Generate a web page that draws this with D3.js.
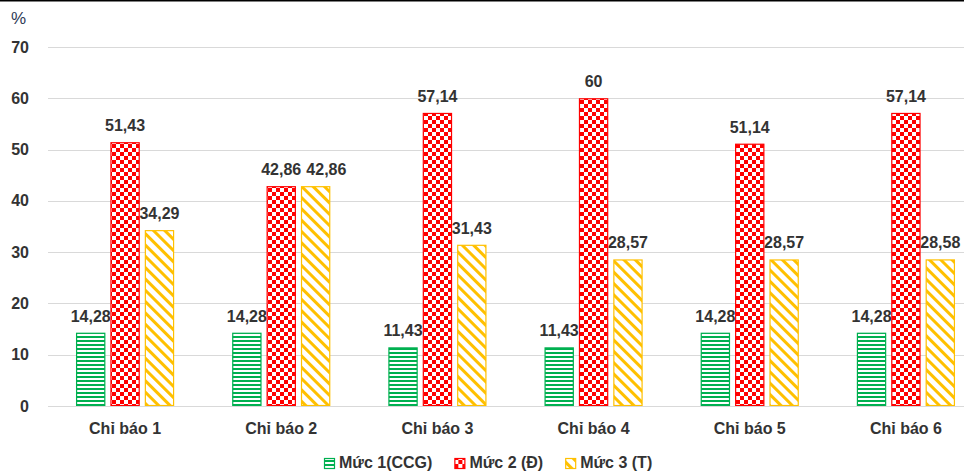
<!DOCTYPE html>
<html>
<head>
<meta charset="utf-8">
<script src="https://cdn.jsdelivr.net/npm/d3@7"></script>
<style>
	html, body { margin: 0; padding: 0; background: #fff; }
	svg { display: block; font-family: "Liberation Sans", Arial, sans-serif; font-weight: bold; }
</style>
</head>
<body>
<div id="chart"></div>
<script>
const categories = ["Chỉ báo 1", "Chỉ báo 2", "Chỉ báo 3", "Chỉ báo 4", "Chỉ báo 5", "Chỉ báo 6"];
const series_names = ["Mức 1(CCG)", "Mức 2 (Đ)", "Mức 3 (T)"];
const muc1 = [14.28, 14.28, 11.43, 11.43, 14.28, 14.28];
const muc2 = [51.43, 42.86, 57.14, 60, 51.14, 57.14];
const muc3 = [34.29, 42.86, 31.43, 28.57, 28.57, 28.58];
const value_labels = [
	["14,28", "14,28", "11,43", "11,43", "14,28", "14,28"],
	["51,43", "42,86", "57,14", "60", "51,14", "57,14"],
	["34,29", "42,86", "31,43", "28,57", "28,57", "28,58"]
];
const y_ticks = [0, 10, 20, 30, 40, 50, 60, 70];

const width = 964, height = 472;
const colors = ["#00b050", "#ff0000", "#ffc000"];
const text_color = "#333333";

const svg = d3.select('#chart').append('svg')
	.attr('width', width)
	.attr('height', height);

// fill patterns, one per series
const defs = svg.append('defs');

const p1 = defs.append('pattern')
	.attr('id', 'pat-0')
	.attr('patternUnits', 'userSpaceOnUse')
	.attr('width', 4).attr('height', 4);
p1.append('rect').attr('width', 4).attr('height', 4).attr('fill', '#fff');
p1.append('rect').attr('y', 0).attr('width', 4).attr('height', 2).attr('fill', colors[0]);

const p2 = defs.append('pattern')
	.attr('id', 'pat-1')
	.attr('patternUnits', 'userSpaceOnUse')
	.attr('width', 8).attr('height', 8);
p2.append('rect').attr('width', 8).attr('height', 8).attr('fill', '#fff');
p2.append('rect').attr('x', 0).attr('y', 0).attr('width', 4).attr('height', 4).attr('fill', colors[1]);
p2.append('rect').attr('x', 4).attr('y', 4).attr('width', 4).attr('height', 4).attr('fill', colors[1]);

const p3 = defs.append('pattern')
	.attr('id', 'pat-2')
	.attr('patternUnits', 'userSpaceOnUse')
	.attr('width', 8).attr('height', 8)
	.attr('patternTransform', 'rotate(-45)');
p3.append('rect').attr('width', 8).attr('height', 8).attr('fill', '#fff');
p3.append('rect').attr('x', 0).attr('y', 0).attr('width', 3).attr('height', 8).attr('fill', colors[2]);

// top border line
svg.append('line')
	.attr('x1', 0).attr('x2', width)
	.attr('y1', 0.75).attr('y2', 0.75)
	.attr('stroke', '#000')
	.attr('stroke-width', 1.5);

const plot = { left: 47, right: 984, top: 47, bottom: 406 };

const x0 = d3.scaleBand()
	.domain(categories)
	.range([plot.left, plot.right])
	.paddingInner(0)
	.paddingOuter(0);

const group_width = 98;
const x1 = d3.scaleBand()
	.domain(d3.range(3))
	.range([0, group_width])
	.paddingInner(0.15)
	.paddingOuter(0);

const y = d3.scaleLinear()
	.domain([0, 70])
	.range([plot.bottom, plot.top]);

const bar_x = (i, s) => x0(categories[i]) + (x0.bandwidth() - group_width) / 2 + x1(s);

// gridlines
svg.append('g')
	.selectAll('line')
	.data(y_ticks)
	.enter().append('line')
	.attr('x1', plot.left + 1)
	.attr('x2', width)
	.attr('y1', d => Math.round(y(d)) + 0.5)
	.attr('y2', d => Math.round(y(d)) + 0.5)
	.attr('stroke', '#d9d9d9')
	.attr('stroke-width', 1.2);

// y axis labels
const yaxis = svg.append('g')
	.attr('transform', `translate(${plot.left - 18},0)`)
	.call(d3.axisLeft(y).tickValues(y_ticks).tickSize(0).tickPadding(0));
yaxis.select('.domain').remove();
yaxis.selectAll('text')
	.attr('fill', text_color)
	.style('font-size', '16px')
	.style('font-weight', 'bold')
	.style('font-family', '"Liberation Sans", Arial, sans-serif');

svg.append('text')
	.attr('x', 11)
	.attr('y', 24)
	.attr('fill', '#2f3a56')
	.style('font-size', '17px')
	.style('font-weight', 'normal')
	.text('%');

// bars
const all_series = [muc1, muc2, muc3];
const label_nodes = [];

all_series.forEach((vals, s) => {
	const g = svg.append('g');

	g.selectAll('rect')
		.data(vals)
		.enter().append('rect')
		.attr('x', (d, i) => bar_x(i, s) + 0.5)
		.attr('y', d => y(d) + 0.5)
		.attr('width', x1.bandwidth() - 1)
		.attr('height', d => y(0) - y(d) - 1)
		.attr('fill', `url(#pat-${s})`)
		.attr('stroke', colors[s])
		.attr('stroke-width', 1.2);

	g.selectAll('text')
		.data(vals)
		.enter().append('text')
		.attr('x', (d, i) => bar_x(i, s) + x1.bandwidth() / 2)
		.attr('y', d => y(d) - 11)
		.attr('text-anchor', 'middle')
		.attr('fill', text_color)
		.style('font-size', '16px')
		.text((d, i) => value_labels[s][i])
		.each(function(d, i) { label_nodes.push({ node: this, i, s }); });
});

// push apart labels that collide within a group
categories.forEach((c, i) => {
	const ls = label_nodes.filter(l => l.i === i).sort((a, b) => a.s - b.s);
	for (let k = 1; k < ls.length; k++) {
		const a = ls[k - 1].node.getBBox(), b = ls[k].node.getBBox();
		const vert = !(a.y + a.height <= b.y || b.y + b.height <= a.y);
		const over = a.x + a.width + 5 - b.x;
		if (vert && over > 0) {
			const el = d3.select(ls[k].node);
			el.attr('x', +el.attr('x') + over);
		}
	}
});

// x axis line
svg.append('line')
	.attr('x1', plot.left + 1)
	.attr('x2', width)
	.attr('y1', Math.round(y(0)) + 0.5)
	.attr('y2', Math.round(y(0)) + 0.5)
	.attr('stroke', '#d9d9d9')
	.attr('stroke-width', 1.2);

// category labels
svg.append('g')
	.selectAll('text')
	.data(categories)
	.enter().append('text')
	.attr('x', d => x0(d) + x0.bandwidth() / 2)
	.attr('y', 434)
	.attr('text-anchor', 'middle')
	.attr('fill', text_color)
	.style('font-size', '16px')
	.text(d => d);

// legend
const legend = svg.append('g');
const marker = 11, gap = 4, item_gap = 22;
let lx = 0;

series_names.forEach((name, s) => {
	const item = legend.append('g').attr('transform', `translate(${lx},0)`);

	item.append('rect')
		.attr('x', 0.5)
		.attr('y', 458.5)
		.attr('width', marker - 1)
		.attr('height', marker - 1)
		.attr('fill', `url(#pat-${s})`)
		.attr('stroke', colors[s])
		.attr('stroke-width', 1.2);

	const t = item.append('text')
		.attr('x', marker + gap)
		.attr('y', 468)
		.attr('fill', text_color)
		.style('font-size', '16px')
		.text(name);

	lx += marker + gap + t.node().getComputedTextLength() + item_gap;
});

lx -= item_gap;
legend.attr('transform', `translate(${Math.round(488 - lx / 2)},0)`);
</script>
</body>
</html>
